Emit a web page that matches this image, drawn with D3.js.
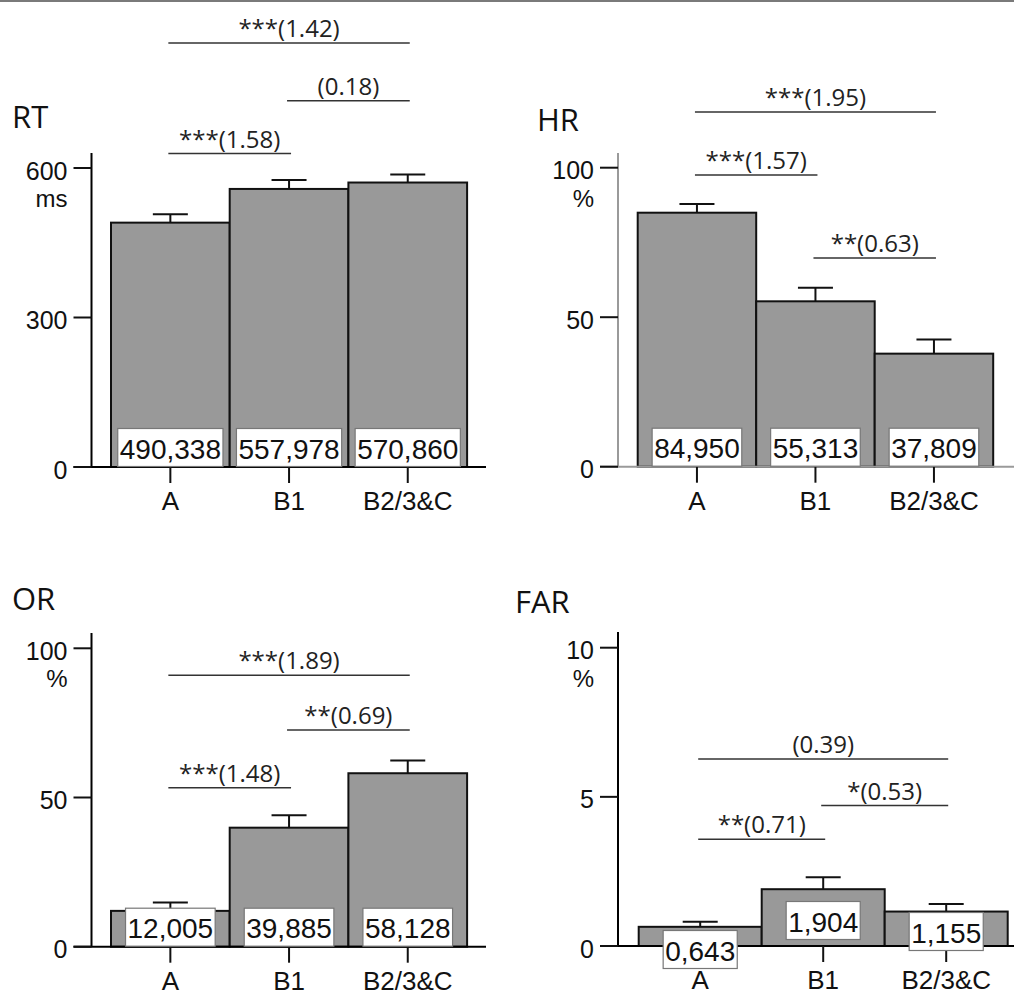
<!DOCTYPE html>
<html>
<head>
<meta charset="utf-8">
<script src="https://cdn.jsdelivr.net/npm/d3@7"></script>
<style>
  body { margin: 0; background: #fff; }
  svg { display: block; }
</style>
</head>
<body>
<svg id="chart"></svg>
<script>
// categories and values
const categories = ["A", "B1", "B2/3&C"];

const rtMeans = [490.338, 557.978, 570.860];
const rtSE = [17, 18, 16];
const rtTicks = [0, 300, 600];

const hrMeans = [84.950, 55.313, 37.809];
const hrSE = [2.9, 4.5, 4.7];
const hrTicks = [0, 50, 100];

const orMeans = [12.005, 39.885, 58.128];
const orSE = [2.8, 4.2, 4.3];
const orTicks = [0, 50, 100];

const farMeans = [0.643, 1.904, 1.155];
const farSE = [0.17, 0.4, 0.25];
const farTicks = [0, 5, 10];

// significance brackets: from, to, label, height in axis units
const rtSig = [
    { from: 0, to: 2, label: "***(1.42)", level: 851 },
    { from: 1, to: 2, label: "(0.18)", level: 735 },
    { from: 0, to: 1, label: "***(1.58)", level: 629 }
];
const hrSig = [
    { from: 0, to: 2, label: "***(1.95)", level: 118.6 },
    { from: 0, to: 1, label: "***(1.57)", level: 97.6 },
    { from: 1, to: 2, label: "**(0.63)", level: 69.8 }
];
const orSig = [
    { from: 0, to: 2, label: "***(1.89)", level: 91 },
    { from: 1, to: 2, label: "**(0.69)", level: 72.6 },
    { from: 0, to: 1, label: "***(1.48)", level: 53.3 }
];
const farSig = [
    { from: 0, to: 2, label: "(0.39)", level: 6.27 },
    { from: 1, to: 2, label: "*(0.53)", level: 4.71 },
    { from: 0, to: 1, label: "**(0.71)", level: 3.58 }
];

const width = 1014;
const height = 996;

const svg = d3.select("#chart")
    .attr("width", width)
    .attr("height", height);

// thin gray border at the top of the picture
svg.append("rect")
    .attr("x", 0).attr("y", 0)
    .attr("width", width).attr("height", 2)
    .attr("fill", "#7a7a7a");

const panels = [
    { title: "RT", unit: "ms", means: rtMeans, se: rtSE, ticks: rtTicks, sig: rtSig,
      titleX: 12, titleY: 128, axisX: 91.5, axisTop: 153, zeroY: 467, topY: 168,
      barX0: 111, barW: 118.7, xEnd: 486, axisColor: "#000", labelDrop: [0, 0, 0] },
    { title: "HR", unit: "%", means: hrMeans, se: hrSE, ticks: hrTicks, sig: hrSig,
      titleX: 537, titleY: 131, axisX: 618, axisTop: 153, zeroY: 466.7, topY: 167.7,
      barX0: 637.7, barW: 118.5, xEnd: 1014, axisColor: "#9a9a9a", labelDrop: [0, 0, 0] },
    { title: "OR", unit: "%", means: orMeans, se: orSE, ticks: orTicks, sig: orSig,
      titleX: 12, titleY: 610, axisX: 91.5, axisTop: 633, zeroY: 946.7, topY: 648.3,
      barX0: 111, barW: 118.7, xEnd: 486, axisColor: "#000", labelDrop: [0, 0, 0] },
    { title: "FAR", unit: "%", means: farMeans, se: farSE, ticks: farTicks, sig: farSig,
      titleX: 515, titleY: 613, axisX: 618, axisTop: 632, zeroY: 946, topY: 647.7,
      barX0: 638.7, barW: 123, xEnd: 1014, axisColor: "#000", labelDrop: [23, -6, 5] }
];

const fmt = d3.format(".3f");
const valueText = v => fmt(v).replace(".", ",");

panels.forEach(p => {
    const g = svg.append("g").attr("class", "panel");

    const x = d3.scaleBand()
        .domain(categories)
        .range([p.barX0, p.barX0 + p.barW * categories.length])
        .padding(0);

    const y = d3.scaleLinear()
        .domain([0, d3.max(p.ticks)])
        .range([p.zeroY, p.topY]);

    const rows = categories.map((c, i) => ({ cat: c, mean: p.means[i], se: p.se[i], i: i }));

    // title
    g.append("text")
        .attr("x", p.titleX)
        .attr("y", p.titleY)
        .attr("font-family", "'Open Sans', sans-serif")
        .attr("font-size", 31)
        .attr("fill", "#111")
        .text(p.title);

    // error bars (behind the bars)
    const err = g.selectAll(".err")
        .data(rows)
        .enter()
        .append("g")
        .attr("class", "err");

    err.append("line")
        .attr("x1", d => x(d.cat) + x.bandwidth() / 2)
        .attr("x2", d => x(d.cat) + x.bandwidth() / 2)
        .attr("y1", d => y(d.mean))
        .attr("y2", d => y(d.mean + d.se))
        .attr("stroke", "#111")
        .attr("stroke-width", 2);

    err.append("line")
        .attr("x1", d => x(d.cat) + x.bandwidth() / 2 - 17.5)
        .attr("x2", d => x(d.cat) + x.bandwidth() / 2 + 17.5)
        .attr("y1", d => y(d.mean + d.se))
        .attr("y2", d => y(d.mean + d.se))
        .attr("stroke", "#111")
        .attr("stroke-width", 2);

    // bars
    g.selectAll(".bar")
        .data(rows)
        .enter()
        .append("rect")
        .attr("class", "bar")
        .attr("x", d => x(d.cat))
        .attr("y", d => y(d.mean))
        .attr("width", x.bandwidth())
        .attr("height", d => y(0) - y(d.mean))
        .attr("fill", "#999999")
        .attr("stroke", "#111")
        .attr("stroke-width", 2);

    // x axis baseline
    g.append("line")
        .attr("x1", p.axisX - 18)
        .attr("x2", p.xEnd)
        .attr("y1", y(0))
        .attr("y2", y(0))
        .attr("stroke", p.axisColor)
        .attr("stroke-width", 2);

    // x ticks and labels
    g.selectAll(".xtick")
        .data(rows)
        .enter()
        .append("line")
        .attr("class", "xtick")
        .attr("x1", d => x(d.cat) + x.bandwidth() / 2)
        .attr("x2", d => x(d.cat) + x.bandwidth() / 2)
        .attr("y1", y(0))
        .attr("y2", y(0) + 16)
        .attr("stroke", "#111")
        .attr("stroke-width", 2);

    g.selectAll(".xlabel")
        .data(rows)
        .enter()
        .append("text")
        .attr("class", "xlabel")
        .attr("x", d => x(d.cat) + x.bandwidth() / 2)
        .attr("y", y(0) + 43)
        .attr("text-anchor", "middle")
        .attr("font-family", "'Liberation Sans', Arial, sans-serif")
        .attr("font-size", 26)
        .attr("fill", "#111")
        .text(d => d.cat);

    // value labels in white boxes
    const lab = g.selectAll(".vlab")
        .data(rows)
        .enter()
        .append("g")
        .attr("class", "vlab");

    lab.append("text")
        .attr("x", d => x(d.cat) + x.bandwidth() / 2)
        .attr("y", d => y(0) + p.labelDrop[d.i] - 8.5)
        .attr("text-anchor", "middle")
        .attr("font-family", "'Liberation Sans', Arial, sans-serif")
        .attr("font-size", 28)
        .attr("fill", "#111")
        .text(d => valueText(d.mean));

    lab.each(function (d) {
        const t = d3.select(this).select("text");
        const w = t.node().getComputedTextLength() + 4;
        d3.select(this).insert("rect", "text")
            .attr("x", x(d.cat) + x.bandwidth() / 2 - w / 2)
            .attr("y", y(0) + p.labelDrop[d.i] - 38.5)
            .attr("width", w)
            .attr("height", 38)
            .attr("fill", "#fff")
            .attr("stroke", "#777")
            .attr("stroke-width", 1.2);
    });

    // y axis
    g.append("line")
        .attr("x1", p.axisX)
        .attr("x2", p.axisX)
        .attr("y1", p.axisTop)
        .attr("y2", y(0))
        .attr("stroke", p.axisColor)
        .attr("stroke-width", 2);

    g.selectAll(".ytick")
        .data(p.ticks)
        .enter()
        .append("line")
        .attr("class", "ytick")
        .attr("x1", p.axisX - 18)
        .attr("x2", p.axisX)
        .attr("y1", d => y(d))
        .attr("y2", d => y(d))
        .attr("stroke", "#111")
        .attr("stroke-width", 2);

    g.selectAll(".ylabel")
        .data(p.ticks)
        .enter()
        .append("text")
        .attr("class", "ylabel")
        .attr("x", p.axisX - 24)
        .attr("y", d => y(d) + 11.5)
        .attr("text-anchor", "end")
        .attr("font-family", "'Liberation Sans', Arial, sans-serif")
        .attr("font-size", 25)
        .attr("fill", "#111")
        .text(d => d);

    // unit under the top tick
    g.append("text")
        .attr("x", p.axisX - 24)
        .attr("y", y(d3.max(p.ticks)) + 39)
        .attr("text-anchor", "end")
        .attr("font-family", "'Liberation Sans', Arial, sans-serif")
        .attr("font-size", 24)
        .attr("fill", "#111")
        .text(p.unit);

    // significance brackets
    const sig = g.selectAll(".sig")
        .data(p.sig)
        .enter()
        .append("g")
        .attr("class", "sig");

    const cx = i => x(categories[i]) + x.bandwidth() / 2;

    sig.append("line")
        .attr("x1", d => cx(d.from) - 2)
        .attr("x2", d => cx(d.to) + 2)
        .attr("y1", d => y(d.level))
        .attr("y2", d => y(d.level))
        .attr("stroke", "#333")
        .attr("stroke-width", 1.5);

    sig.append("text")
        .attr("x", d => (cx(d.from) + cx(d.to)) / 2)
        .attr("y", d => y(d.level) - 6)
        .attr("text-anchor", "middle")
        .attr("font-family", "'Open Sans', sans-serif")
        .attr("font-size", 24)
        .attr("fill", "#222")
        .text(d => d.label);
});
</script>
</body>
</html>
